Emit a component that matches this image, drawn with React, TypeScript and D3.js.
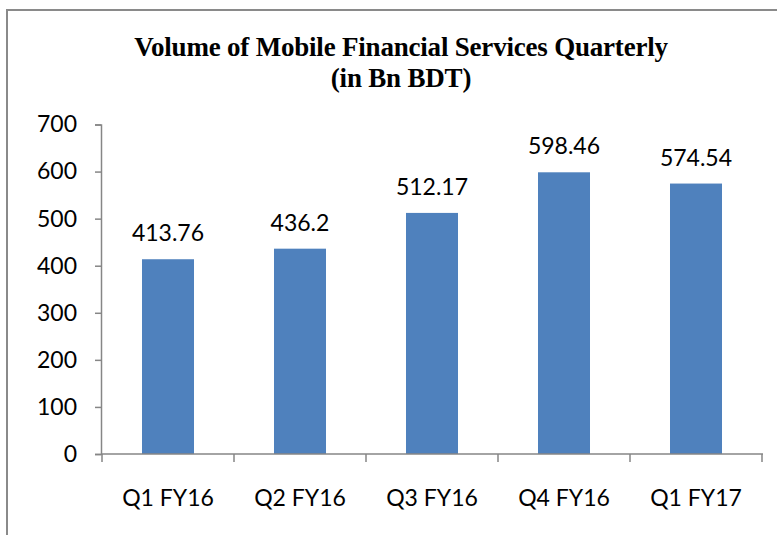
import React, { useEffect, useRef } from 'react';
import * as d3 from 'd3';

const categories = ['Q1 FY16', 'Q2 FY16', 'Q3 FY16', 'Q4 FY16', 'Q1 FY17'];
const volumes = [413.76, 436.2, 512.17, 598.46, 574.54];
const valueLabels = ['413.76', '436.2', '512.17', '598.46', '574.54'];
const yTicks = [0, 100, 200, 300, 400, 500, 600, 700];
const titleLines = ['Volume of Mobile Financial Services Quarterly', '(in Bn BDT)'];

const App = () => {
  const svgRef = useRef<SVGSVGElement>(null);

  useEffect(() => {
    document.body.style.margin = '0';
    const W = 777;
    const H = 535;
    const axisColor = '#868686';
    const labelFont = 'Lato, "Open Sans", sans-serif';

    const svg = d3.select(svgRef.current).attr('width', W).attr('height', H);
    svg.selectAll('*').remove();

    // outer chart border (right and bottom edges run off the picture)
    svg
      .append('rect')
      .attr('x', 7)
      .attr('y', 10)
      .attr('width', 800)
      .attr('height', 600)
      .attr('fill', '#fff')
      .attr('stroke', '#8a8a8a')
      .attr('stroke-width', 2);

    const x = d3.scaleBand().domain(categories).range([102, 762]).paddingInner(0.606).paddingOuter(0.303);
    const y = d3.scaleLinear().domain([0, 700]).range([454, 124.5]);

    // title
    svg
      .append('g')
      .selectAll('text')
      .data(titleLines)
      .enter()
      .append('text')
      .attr('x', 401)
      .attr('y', (d, i) => 56 + i * 31)
      .attr('text-anchor', 'middle')
      .style('font-family', '"Liberation Serif", "Times New Roman", serif')
      .style('font-weight', 'bold')
      .style('font-size', '27px')
      .style('letter-spacing', '-0.2px')
      .text((d) => d);

    // bars
    svg
      .selectAll('.bar')
      .data(volumes)
      .enter()
      .append('rect')
      .attr('class', 'bar')
      .attr('x', (d, i) => x(categories[i]) as number)
      .attr('y', (d) => y(d))
      .attr('width', x.bandwidth())
      .attr('height', (d) => y(0) - y(d))
      .attr('fill', '#4f81bd');

    // value labels
    svg
      .selectAll('.value-label')
      .data(volumes)
      .enter()
      .append('text')
      .attr('class', 'value-label')
      .attr('x', (d, i) => (x(categories[i]) as number) + x.bandwidth() / 2)
      .attr('y', (d) => y(d) - 18)
      .attr('text-anchor', 'middle')
      .style('font-family', labelFont)
      .style('font-size', '23px')
      .style('fill', '#000')
      .text((d, i) => valueLabels[i]);

    // y axis
    const yAxis = svg
      .append('g')
      .attr('transform', 'translate(101,0)')
      .call(d3.axisLeft(y).tickValues(yTicks).tickSize(6).tickPadding(18).tickFormat(d3.format('d')));
    yAxis.select('.domain').attr('stroke', axisColor).attr('stroke-width', 1.5);
    yAxis.selectAll('.tick line').attr('stroke', axisColor).attr('stroke-width', 1.5);
    yAxis
      .selectAll('.tick text')
      .style('font-family', labelFont)
      .style('font-size', '23px')
      .attr('fill', '#000');

    // x axis with ticks between categories
    const xAxisG = svg.append('g');
    xAxisG
      .append('line')
      .attr('x1', 101)
      .attr('x2', 763)
      .attr('y1', y(0))
      .attr('y2', y(0))
      .attr('stroke', axisColor)
      .attr('stroke-width', 1.5);
    const step = x.step();
    const boundaries = d3.range(categories.length + 1).map((i) => 102 + i * step);
    xAxisG
      .selectAll('.xtick')
      .data(boundaries)
      .enter()
      .append('line')
      .attr('x1', (d) => d)
      .attr('x2', (d) => d)
      .attr('y1', y(0))
      .attr('y2', y(0) + 8)
      .attr('stroke', axisColor)
      .attr('stroke-width', 1.5);
    xAxisG
      .selectAll('.xlabel')
      .data(categories)
      .enter()
      .append('text')
      .attr('x', (d) => (x(d) as number) + x.bandwidth() / 2)
      .attr('y', 506)
      .attr('text-anchor', 'middle')
      .style('font-family', labelFont)
      .style('font-size', '23px')
      .text((d) => d);
  }, []);

  return <svg ref={svgRef} style={{ display: 'block' }}></svg>;
};

export default App;
